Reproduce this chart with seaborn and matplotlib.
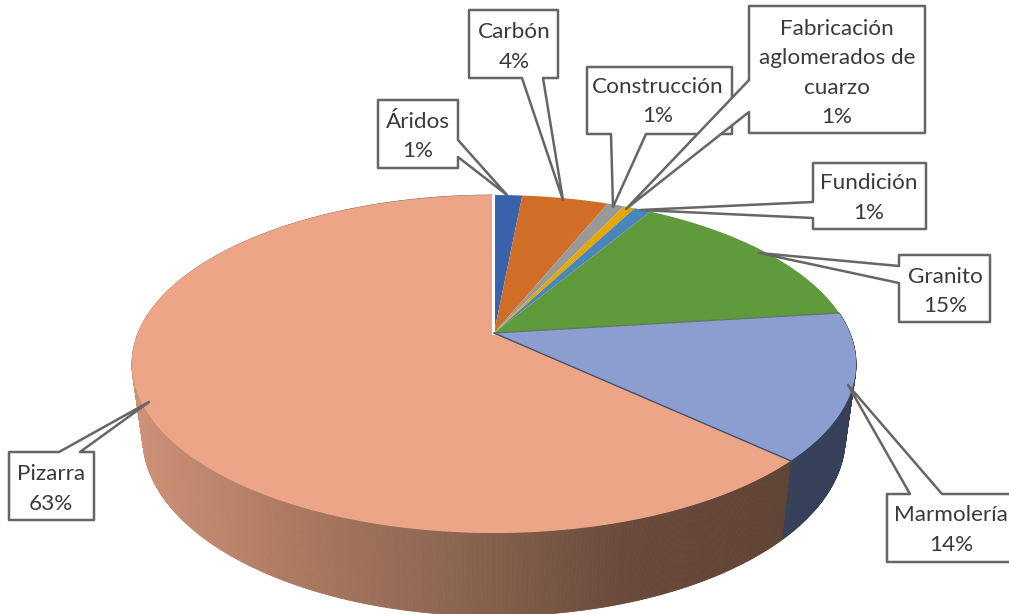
import numpy as np
import matplotlib
matplotlib.use("Agg")
import matplotlib.pyplot as plt
import seaborn as sns
from matplotlib.colors import LinearSegmentedColormap
from matplotlib.patches import Polygon

# data
categories = ["Áridos", "Carbón", "Construcción", "Fabricación\naglomerados de\ncuarzo",
              "Fundición", "Granito", "Marmolería", "Pizarra"]
shares = [1.5, 4.6, 0.9, 0.6, 0.9, 14.5, 14.0, 63.0]
percent_labels = ["1%", "4%", "1%", "1%", "1%", "15%", "14%", "63%"]
slice_colors = ["#3a62ab", "#d06d26", "#999999", "#e5a800",
                "#4a86bb", "#5f9a3d", "#8c9ed0", "#eca586"]

# callout outlines in picture pixels, same order as categories
callouts = [
    [(378, 100), (458, 100), (458, 140), (507, 195), (458, 157), (458, 168), (378, 168)],
    [(469, 10), (558, 10), (558, 78), (543, 78), (563, 200), (522, 78), (469, 78)],
    [(587, 67), (732, 67), (732, 134), (646, 134), (613, 207), (611, 134), (587, 134)],
    [(749, 6), (925, 6), (925, 133), (749, 133), (749, 112), (626, 209), (749, 80)],
    [(813, 163), (926, 163), (926, 229), (813, 229), (813, 218), (640, 210), (813, 202)],
    [(899, 255), (990, 255), (990, 322), (899, 322), (899, 283), (759, 253), (899, 266)],
    [(887, 494), (910, 494), (848, 385), (942, 494), (1012, 494), (1012, 562), (887, 562)],
    [(9, 452), (59, 452), (149, 402), (80, 452), (94, 452), (94, 520), (9, 520)],
]
text_centers = [(418, 136.5), (514, 47), (658, 101.5), (837, 73), (869, 198), (945, 291.5), (951, 530), (51, 489)]

# view of the tilted disc
apex = (494, 333)
radius_x, radius_y, tilt = 355.9, 163.3, 0.1835
wall_scale_x, wall_scale_y, wall_drop = 0.97, 1.055, 72

sns.set_theme(style="white")
plt.rcParams["font.family"] = ["Lato", "DejaVu Sans"]
palette = sns.color_palette(slice_colors)
wall_cmap = LinearSegmentedColormap.from_list(
    "wall", ["#cc9278", "#ad7860", "#8a6550", "#6a4a3a", "#5f4334"])


def rim(angle_deg, scale_x=1.0, scale_y=1.0, drop=0.0):
    # angle runs clockwise from the top of the disc
    a = np.radians(angle_deg)
    w = 1 + tilt * np.cos(a)
    x = apex[0] + scale_x * radius_x * np.sin(a) / w
    y = apex[1] - scale_y * radius_y * np.cos(a) / w + drop
    return x, y


edges = np.concatenate([[0], np.cumsum(shares)]) * 3.6

fig = plt.figure(figsize=(10.09, 6.14), dpi=100)
ax = fig.add_axes([0, 0, 1, 1])
ax.set_xlim(0, 1009)
ax.set_ylim(614, 0)
ax.axis("off")

# outer wall, cut in thin strips for the shading
for i in [6, 7]:
    steps = np.linspace(edges[i], edges[i + 1], int(edges[i + 1] - edges[i]) * 3 + 2)
    for a0, a1 in zip(steps[:-1], steps[1:]):
        x0, y0 = rim(a0)
        x1, y1 = rim(a1)
        x2, y2 = rim(a1, wall_scale_x, wall_scale_y, wall_drop)
        x3, y3 = rim(a0, wall_scale_x, wall_scale_y, wall_drop)
        if i == 6:
            col = "#364159"
        else:
            col = wall_cmap(np.clip((x3 - 140) / 640, 0, 1))
        ax.fill([x0, x1, x2, x3], [y0, y1, y2, y3], color=col, lw=0.6, zorder=1)

# top face
for i in [7, 0, 1, 2, 3, 4, 5, 6]:
    arc = np.linspace(edges[i], edges[i + 1], 200)
    x, y = rim(arc)
    ax.fill(np.r_[apex[0], x], np.r_[apex[1], y], color=palette[i], lw=0, zorder=2)

# thin lines between the slices
ax.plot([apex[0] - 1.5, apex[0] - 1.5], [apex[1], rim(0)[1]], color="white", lw=2.2, zorder=3)
for i, col in [(6, "#5f7a60"), (7, "#46506c")]:
    xe, ye = rim(edges[i])
    ax.plot([apex[0], xe], [apex[1], ye], color=col, lw=1.0, zorder=3)

# callouts
for i, (name, pct) in enumerate(zip(categories, percent_labels)):
    ax.add_patch(Polygon(callouts[i], closed=True, facecolor="white", edgecolor="#666666",
                         lw=1.8, joinstyle="round", zorder=4 + i))
    ax.text(text_centers[i][0], text_centers[i][1], name + "\n" + pct, ha="center", va="center",
            fontsize=16.2, color="#3a3a3a", linespacing=1.58, zorder=4 + i)

fig.savefig("out.png", dpi=100)
